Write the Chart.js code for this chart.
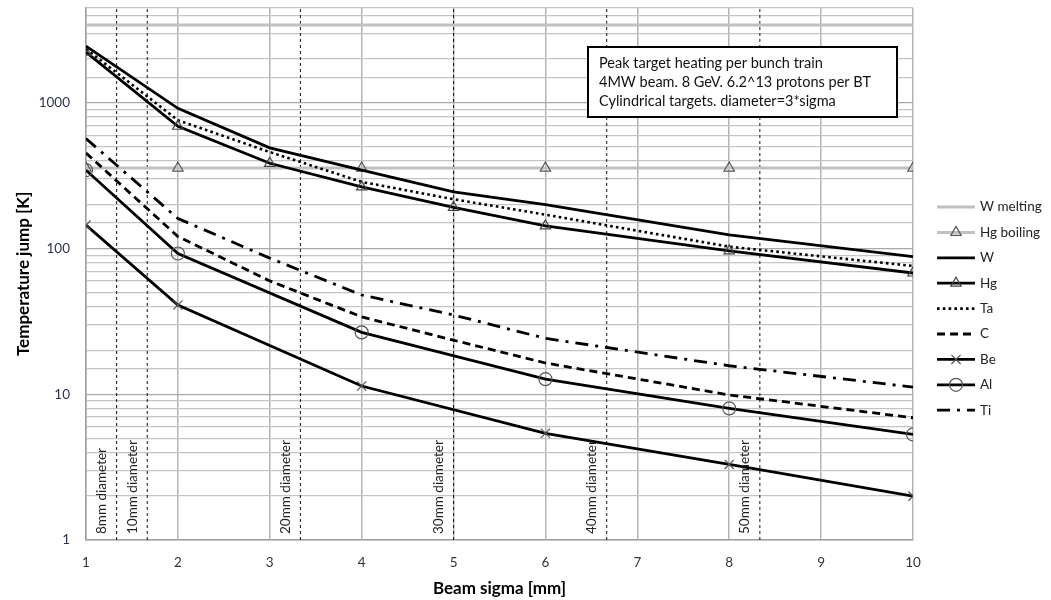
<!DOCTYPE html>
<html>
<head>
<meta charset="utf-8">
<script src="https://cdn.jsdelivr.net/npm/chart.js@4.4.1/dist/chart.umd.min.js"></script>
<style>
  html, body { margin: 0; padding: 0; background: #fff; }
</style>
</head>
<body>
<canvas id="chart" width="1051" height="600"></canvas>
<script>
// beam sigma [mm] where the curves have points
const sigma = [1, 2, 3, 4, 5, 6, 8, 10];
const sigmaMarked = [1, 2, 4, 6, 8, 10];

// reference temperatures
const wMelting = 3422;
const hgBoiling = 357;

// temperature jump [K]
const W  = [2450, 918, 491, 345, 245, 200, 124, 88];
const Hg = [2230, 691, 385, 265, 192, 143, 96.5, 68];
const Ta = [2350, 760, 460, 287, 218, 171, 103, 76];
const C  = [453, 121, 60, 34, 23.5, 16.4, 9.9, 6.9];
const Ti = [569, 161, 86, 48, 35, 24.2, 15.7, 11.2];
const Be = [145, 41, 11.4, 5.4, 3.3, 2.0];
const Al = [345, 92.5, 26.6, 12.7, 8.0, 5.3];

// target diameter markers (sigma positions)
const diamSigma  = [4/3, 5/3, 10/3, 5, 20/3, 25/3];
const diamLabels = ['8mm diameter', '10mm diameter', '20mm diameter', '30mm diameter', '40mm diameter', '50mm diameter'];

const noteLines = [
  'Peak target heating per bunch train',
  '4MW beam. 8 GeV. 6.2^13 protons per BT',
  'Cylindrical targets. diameter=3*sigma'
];

const yMin = 1, yMax = 4500;
const legendOrder = ['W melting', 'Hg boiling', 'W', 'Hg', 'Ta', 'C', 'Be', 'Al', 'Ti'];

const FONT = 'Lato, "Open Sans", sans-serif';
const pts = (xs, ys) => xs.map((v, i) => ({x: v, y: ys[i]}));
const flat = (xs, val) => xs.map(v => ({x: v, y: val}));

const black = '#000';
const datasets = [
  {label: 'W melting', data: flat([1, 10], wMelting), borderColor: '#c0c0c0', borderWidth: 3, pointRadius: 0, order: 10},
  {label: 'Hg boiling', data: flat(sigmaMarked, hgBoiling), borderColor: '#c0c0c0', borderWidth: 3,
   pointStyle: 'triangle', pointRadius: 6, pointBorderColor: '#555', pointBorderWidth: 1.2, pointBackgroundColor: 'rgba(255,255,255,0)', order: 9},
  {label: 'W', data: pts(sigma, W), borderColor: black, borderWidth: 2.8, pointRadius: 0, order: 1},
  {label: 'Hg', data: pts(sigma, Hg), borderColor: black, borderWidth: 2.8,
   pointStyle: 'triangle', pointRadius: 6, pointBorderColor: '#444', pointBorderWidth: 1.2, pointBackgroundColor: 'rgba(255,255,255,0)', order: 1},
  {label: 'Ta', data: pts(sigma, Ta), borderColor: black, borderWidth: 2.6, borderDash: [2.6, 3.2], pointRadius: 0, order: 1},
  {label: 'C', data: pts(sigma, C), borderColor: black, borderWidth: 2.8, borderDash: [8, 5], pointRadius: 0, order: 1},
  {label: 'Be', data: pts(sigmaMarked, Be), borderColor: black, borderWidth: 2.8,
   pointStyle: 'crossRot', pointRadius: 6.5, pointBorderColor: '#555', pointBorderWidth: 1.2, order: 1},
  {label: 'Al', data: pts(sigmaMarked, Al), borderColor: black, borderWidth: 2.8,
   pointStyle: 'circle', pointRadius: 6.5, pointBorderColor: '#555', pointBorderWidth: 1.2, pointBackgroundColor: 'rgba(255,255,255,0)', order: 1},
  {label: 'Ti', data: pts(sigma, Ti), borderColor: black, borderWidth: 2.8, borderDash: [13, 7, 3, 7], pointRadius: 0, order: 1}
];
// dashed diameter lines
diamSigma.forEach((s, i) => {
  datasets.push({label: diamLabels[i], data: [{x: s, y: yMin}, {x: s, y: yMax}], borderColor: '#111',
    borderWidth: 1, borderDash: [3, 3], pointRadius: 0, order: 20});
});

function markerFallback(ctx, style, r, x, y) {
  ctx.beginPath();
  if (style === 'triangle') {
    ctx.moveTo(x, y - r);
    ctx.lineTo(x + r * 0.866, y + r * 0.5);
    ctx.lineTo(x - r * 0.866, y + r * 0.5);
    ctx.closePath();
  } else if (style === 'circle') {
    ctx.arc(x, y, r, 0, Math.PI * 2);
  } else if (style === 'crossRot') {
    const d = r * 0.707;
    ctx.moveTo(x - d, y - d); ctx.lineTo(x + d, y + d);
    ctx.moveTo(x - d, y + d); ctx.lineTo(x + d, y - d);
  }
  ctx.stroke();
}

const overlay = {
  id: 'overlay',
  afterDraw(chart) {
    const {ctx, scales: {x, y}} = chart;
    ctx.save();

    // diameter labels
    ctx.font = '13.5px ' + FONT;
    ctx.fillStyle = '#222';
    ctx.textAlign = 'left';
    ctx.textBaseline = 'middle';
    diamSigma.forEach((s, i) => {
      ctx.save();
      ctx.translate(x.getPixelForValue(s) - 15, y.getPixelForValue(yMin) - 6);
      ctx.rotate(-Math.PI / 2);
      ctx.fillText(diamLabels[i], 0, 0);
      ctx.restore();
    });

    // note box
    ctx.fillStyle = '#fff';
    ctx.fillRect(588, 47, 309, 70);
    ctx.strokeStyle = '#000';
    ctx.lineWidth = 2;
    ctx.strokeRect(588, 47, 309, 70);
    ctx.fillStyle = '#111';
    ctx.font = '14.5px ' + FONT;
    noteLines.forEach((t, i) => ctx.fillText(t, 599, 63 + i * 19));

    // legend
    const lx0 = 937, lx1 = 975;
    legendOrder.forEach((name, i) => {
      const ds = chart.data.datasets.find(d => d.label === name);
      const ly = 207 + i * 25.4;
      ctx.save();
      ctx.strokeStyle = ds.borderColor;
      ctx.lineWidth = ds.borderWidth;
      ctx.setLineDash(ds.borderDash || []);
      ctx.beginPath();
      ctx.moveTo(lx0, ly); ctx.lineTo(lx1, ly);
      ctx.stroke();
      ctx.setLineDash([]);
      if (ds.pointRadius > 0) {
        ctx.strokeStyle = ds.pointBorderColor;
        ctx.fillStyle = 'rgba(255,255,255,0)';
        ctx.lineWidth = ds.pointBorderWidth;
        const r = ds.pointRadius;
        if (Chart.helpers && Chart.helpers.drawPoint) {
          Chart.helpers.drawPoint(ctx, {pointStyle: ds.pointStyle, radius: r, rotation: 0, borderWidth: ds.pointBorderWidth}, (lx0 + lx1) / 2, ly);
        } else {
          markerFallback(ctx, ds.pointStyle, r, (lx0 + lx1) / 2, ly);
        }
      }
      ctx.restore();
      ctx.fillStyle = '#222';
      ctx.font = '13.5px ' + FONT;
      ctx.textAlign = 'left';
      ctx.textBaseline = 'middle';
      ctx.fillText(name, 980, ly);
    });
    ctx.restore();
  }
};

new Chart(document.getElementById('chart'), {
  type: 'line',
  data: {datasets},
  options: {
    responsive: false,
    animation: false,
    layout: {padding: {left: 0, right: 138, top: 7, bottom: 0}},
    plugins: {legend: {display: false}, tooltip: {enabled: false}},
    elements: {line: {tension: 0, fill: false}},
    scales: {
      x: {
        type: 'linear',
        min: 1, max: 10,
        afterFit: s => { s.height = 60; s.paddingLeft = 0; s.paddingRight = 0; },
        ticks: {stepSize: 1, color: '#333', padding: 15, font: {family: FONT, size: 13.5}},
        grid: {color: '#b4b4b4', lineWidth: 1.5, drawTicks: false},
        border: {color: '#a0a0a0', width: 1.5},
        title: {display: true, text: 'Beam sigma [mm]', color: '#000', padding: {top: 0, bottom: 1},
          font: {family: FONT, size: 17, weight: 'bold'}}
      },
      y: {
        type: 'logarithmic',
        min: yMin, max: yMax,
        bounds: 'data',
        afterBuildTicks: s => {
          s.min = yMin; s.max = yMax;
          s.ticks = s.ticks.filter(t => t.value >= yMin && t.value <= yMax);
        },
        afterFit: s => { s.width = 86; s.paddingTop = 0; s.paddingBottom = 0; },
        ticks: {
          autoSkip: false, padding: 16, color: '#2e3350', font: {family: FONT, size: 13.5},
          callback: v => {
            const l = Math.log10(v);
            return Math.abs(l - Math.round(l)) < 1e-9 ? String(v) : '';
          }
        },
        grid: {color: c => (c.tick && c.tick.major) ? '#a8a8a8' : '#c4c4c4', lineWidth: 1.3, drawTicks: false},
        border: {color: '#a0a0a0', width: 1.5},
        title: {display: true, text: 'Temperature jump [K]', color: '#000', padding: {top: 13, bottom: 0},
          font: {family: FONT, size: 17, weight: 'bold'}}
      }
    }
  },
  plugins: [overlay]
});
</script>
</body>
</html>
